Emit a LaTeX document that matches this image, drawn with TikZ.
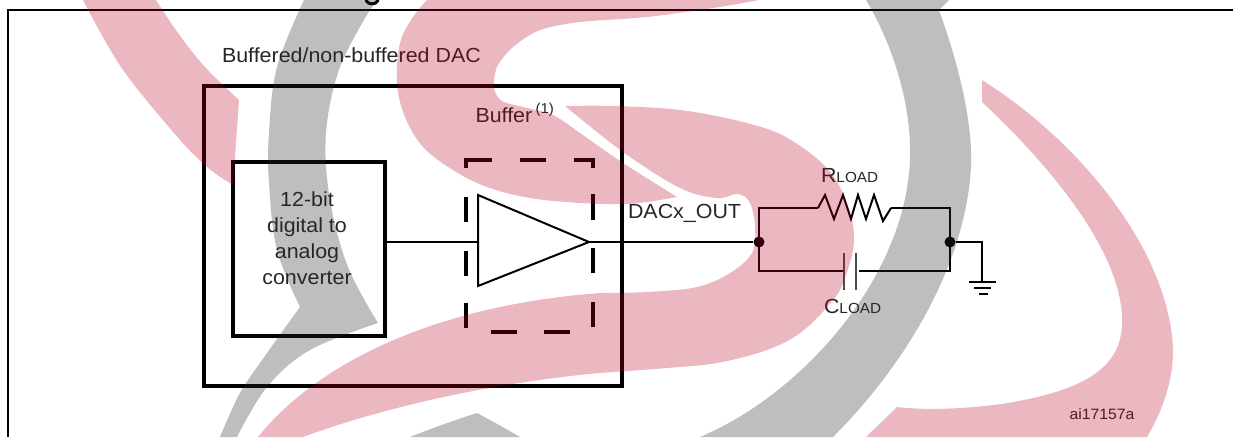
\documentclass[tikz,border=0pt]{standalone}
\usepackage{fontspec}
\setmainfont[FakeStretch=1.05]{Liberation Sans}
\begin{document}
\begin{tikzpicture}[x=1pt,y=-1pt,
  lbl/.style={inner sep=0pt,outer sep=0pt,anchor=base west,text=black!85,font=\fontsize{20.4}{20.4}\selectfont},
  heavy/.style={draw=black,line width=4pt},
  thin wire/.style={draw=black,line width=2pt},
  dashseg/.style={draw=black,line width=4pt},
  plate/.style={draw=black!70,line width=2.6pt},
  dotnode/.style={circle,fill=black,draw=none,minimum size=11pt,inner sep=0pt},
  pinkmark/.style={fill={rgb,1:red,0.72;green,0;blue,0.15},fill opacity=0.28,draw=none},
  greymark/.style={fill=black!83,fill opacity=0.3,draw=none}]
\useasboundingbox (0,0) rectangle (1233,437);
\fill[white] (0,0) rectangle (1233,437);

% frame
\coordinate (fa) at (8,437);
\coordinate (fb) at (8,10);
\coordinate (fc) at (1233,10);
\draw[line width=2pt,line join=miter] (fa) -- (fb) -- (fc);
\draw[line width=3pt,line cap=round] (366,0.5) .. controls (368,5) and (376,5) .. (378,0.5);

% boxes
\node[heavy,rectangle,minimum width=418pt,minimum height=300pt,inner sep=0pt] (dac) at (413,236) {};
\node[heavy,rectangle,minimum width=152pt,minimum height=174pt,inner sep=0pt] (conv) at (309,248.5) {};
\node[lbl] (daclabel) at (222,62) {Buffered/non-buffered DAC};
\node[inner sep=0pt,align=center,text=black!85,font=\fontsize{20.4}{25.7}\selectfont,anchor=base] (convlabel) at (307,284) {12-bit\\digital to\\analog\\converter};
\node[lbl] (buflabel) at (475.5,122) {Buffer};
\node[lbl,font=\fontsize{14.3}{14.3}\selectfont] (bufnote) at (535.5,113) {(1)};
\node[lbl] (outlabel) at (628,218) {DACx\_OUT};
\node[lbl] (rlabel) at (821,182) {R{\fontsize{14.6}{14.6}\selectfont LOAD}};
\node[lbl] (clabel) at (824,313) {C{\fontsize{14.6}{14.6}\selectfont LOAD}};
\node[lbl,font=\fontsize{15}{15}\selectfont] (ref) at (1069.5,419) {ai17157a};

% dashed buffer outline
\draw[dashseg,line cap=butt] (466,168) -- (466,160) -- (492,160);
\draw[dashseg] (520,160) -- (546,160);
\draw[dashseg] (574,160) -- (593,160) -- (593,168);
\draw[dashseg] (466,197) -- (466,222);
\draw[dashseg] (466,251) -- (466,276);
\draw[dashseg] (466,303) -- (466,328);
\draw[dashseg] (593,194) -- (593,220);
\draw[dashseg] (593,248) -- (593,273);
\draw[dashseg] (593,302) -- (593,327);
\draw[dashseg] (491,332) -- (517,332);
\draw[dashseg] (544,332) -- (570,332);

% amplifier
\coordinate (triA) at (478,195);
\coordinate (triB) at (478,286);
\coordinate (triTip) at (589,242);
\coordinate (triIn) at (478,242);
\draw[thin wire,line join=miter] (triA) -- (triB) -- (triTip) -- cycle;
\draw[thin wire] (triIn -| conv.east) -- (triIn);

% load
\node[dotnode] (n1) at (759,242) {};
\node[dotnode] (n2) at (950,242) {};
\draw[thin wire] (triTip) -- (n1);
\coordinate (r1) at (818,208);
\coordinate (r2) at (891,208);
\coordinate (c1) at (844,271);
\coordinate (c2) at (859,271);
\draw[thin wire,line join=miter] (r1) -- (825,195) -- (834,219) -- (843,195) -- (851,219) -- (858,195) -- (866,219) -- (874,195) -- (883,221) -- (r2);
\draw[thin wire] (n1.center) -- (n1.center |- r1) -- (r1);
\draw[thin wire] (n2.center) -- (n2.center |- r2) -- (r2);
\draw[thin wire] (n1.center) -- (n1.center |- c1) -- (c1);
\draw[thin wire] (n2.center) -- (n2.center |- c2) -- (c2);
\draw[plate] (844,253) -- (844,290);
\draw[plate] (856,253) -- (856,290);

% ground
\coordinate (g0) at (982,242);
\coordinate (g1) at (982,282);
\draw[thin wire,line join=miter] (n2) -- (g0) -- (g1);
\draw[thin wire] (969,282) -- (996,282);
\draw[thin wire] (974,288) -- (991,288);
\draw[thin wire] (979,294) -- (988,294);

% watermark: pink
\fill[pinkmark] plot[smooth,tension=.6] coordinates {(427,0) (413,17) (400,43) (397,83) (405,117) (423,147) (453,170) (487,187) (530,198) (580,203) (623,204) (647,202) (677,197)}
  -- plot[smooth,tension=.5] coordinates {(677,197) (623,163) (580,133) (553,115) (523,107) (502,101) (494,88) (497,67) (513,47) (540,30) (580,22) (647,17) (720,7) (759,0)} -- cycle;
\fill[pinkmark] plot[smooth,tension=.6] coordinates {(565,106) (613,106) (680,110) (747,123) (791,140) (834,177) (854,233) (843,283) (827,307) (800,333) (767,350) (717,363) (667,368) (600,373)}
  .. controls (500,382) and (390,405) .. (303,437) -- (258,437)
  .. controls (320,360) and (440,305) .. (600,293)
  -- plot[smooth,tension=.6] coordinates {(600,293) (647,292) (697,287) (730,273) (752,253) (755,227) (750,203) (738,194) (717,198) (680,188) (623,152) (565,106)} -- cycle;
\fill[pinkmark] plot[smooth,tension=.6] coordinates {(83,0) (121,67) (174,133) (207,167) (233,185)}
  -- plot[smooth,tension=.6] coordinates {(239,100) (205,67) (178,33) (156,0)} -- cycle;
\fill[pinkmark] (982,80) .. controls (1085,145) and (1170,255) .. (1173,350)
  .. controls (1173,385) and (1160,415) .. (1147,437) -- (866,437) -- (897,407)
  .. controls (930,411) and (975,408) .. (1008,403)
  .. controls (1070,392) and (1120,375) .. (1122,325)
  .. controls (1125,260) and (1060,175) .. (982,102) -- cycle;

% watermark: grey
\fill[greymark] (949,0) -- (939,10) .. controls (957,60) and (973,120) .. (971,167)
  .. controls (966,260) and (910,360) .. (833,437) -- (700,437)
  .. controls (800,395) and (905,280) .. (910,160)
  .. controls (912,100) and (890,40) .. (866,0) -- cycle;
\fill[greymark] plot[smooth,tension=.6] coordinates {(304,0) (277,67) (269,133) (269,183) (277,250) (300,307)}
  -- plot[smooth,tension=.6] coordinates {(300,307) (267,353) (240,393) (220,437)}
  -- plot[smooth,tension=.6] coordinates {(237,437) (267,387) (310,350) (378,323)}
  -- plot[smooth,tension=.6] coordinates {(378,323) (348,267) (330,200) (326,133) (340,67) (370,10)} -- (377,0) -- cycle;
\fill[greymark] (410,437) .. controls (435,427) and (455,420) .. (477,413) .. controls (490,420) and (505,428) .. (520,437) -- cycle;
\end{tikzpicture}
\end{document}
